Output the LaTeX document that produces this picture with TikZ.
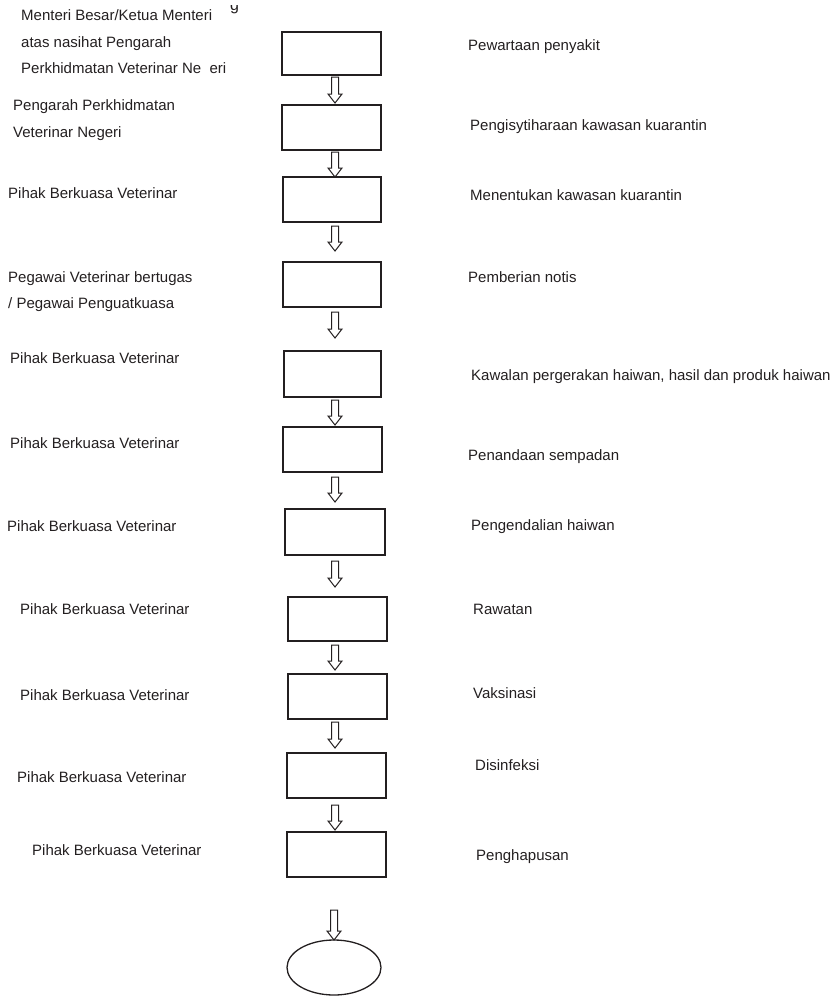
\documentclass[tikz,border=0pt]{standalone}
\usepackage{fontspec}
\setmainfont{Liberation Sans}
\usetikzlibrary{shapes.geometric}
\definecolor{ink}{HTML}{231F20}
\begin{document}
\begin{tikzpicture}[x=1pt,y=-1pt,
  lbl/.style={anchor=base west, inner sep=0pt, font=\fontsize{15}{18}\selectfont, text=ink},
  stepbox/.style={draw=ink, line width=1.3pt, rectangle, inner sep=0pt},
  endshape/.style={draw=ink, line width=1.3pt, ellipse, inner sep=0pt},
  pics/barrow/.style={code={
    \draw[draw=ink, line width=1pt, line join=miter]
      (-3.5,0) -- (-3.5,#1-9) -- (-7,#1-9) -- (0,#1) -- (7,#1-9) -- (3.5,#1-9) -- (3.5,0) -- cycle;}}
]
\useasboundingbox (0,0) rectangle (837,996);

% step boxes
\newcommand\stepnode[5]{\node[stepbox, minimum width={#3pt-#2pt}, minimum height={#5pt-#4pt}] (#1) at ({(#2+#3)/2},{(#4+#5)/2}) {};}
\stepnode{b1}{282}{381}{32}{75}
\stepnode{b2}{282}{381}{105}{150}
\stepnode{b3}{283}{381}{177}{222}
\stepnode{b4}{283}{381}{262}{307}
\stepnode{b5}{284}{381}{351}{397}
\stepnode{b6}{283}{382}{427}{472}
\stepnode{b7}{285}{385}{509}{555}
\stepnode{b8}{288}{387}{597}{641}
\stepnode{b9}{288}{387}{674}{719}
\stepnode{b10}{287}{386}{753}{798}
\stepnode{b11}{287}{386}{832}{877}
\node[endshape, minimum width=94pt, minimum height=55pt] (e) at (334,967.5) {};

% block arrows
\pic at (335,77) {barrow=26};
\pic at (335,152) {barrow=25};
\pic at (335,226) {barrow=25};
\pic at (335,312) {barrow=26};
\pic at (335,400) {barrow=25};
\pic at (335,477) {barrow=25};
\pic at (335,561) {barrow=26};
\pic at (335,645) {barrow=25};
\pic at (335,722) {barrow=26};
\pic at (335,805) {barrow=25};
\pic at (334,910) {barrow=30};

% left labels
\node[lbl] (l1a) at (21,20) {Menteri Besar/Ketua Menteri};
\node[lbl] (l1b) at (21,47) {atas nasihat Pengarah};
\node[lbl] (l1c) at (21,73) {Perkhidmatan Veterinar Ne\ \ eri};
\begin{scope}
  \clip (220,5) rectangle (250,20);
  \node[lbl, font=\fontsize{16}{18}\selectfont] (g) at (230,10) {g};
\end{scope}
\node[lbl] (l2a) at (13,110) {Pengarah Perkhidmatan};
\node[lbl] (l2b) at (13,137) {Veterinar Negeri};
\node[lbl] (l3) at (8,198) {Pihak Berkuasa Veterinar};
\node[lbl] (l4a) at (8,282) {Pegawai Veterinar bertugas};
\node[lbl] (l4b) at (8,308) {/ Pegawai Penguatkuasa};
\node[lbl] (l5) at (10,363) {Pihak Berkuasa Veterinar};
\node[lbl] (l6) at (10,448) {Pihak Berkuasa Veterinar};
\node[lbl] (l7) at (7,531) {Pihak Berkuasa Veterinar};
\node[lbl] (l8) at (20,614) {Pihak Berkuasa Veterinar};
\node[lbl] (l9) at (20,700) {Pihak Berkuasa Veterinar};
\node[lbl] (l10) at (17,782) {Pihak Berkuasa Veterinar};
\node[lbl] (l11) at (32,855) {Pihak Berkuasa Veterinar};

% right labels
\node[lbl] (r1) at (468,50) {Pewartaan penyakit};
\node[lbl] (r2) at (470,130) {Pengisytiharaan kawasan kuarantin};
\node[lbl] (r3) at (470,200) {Menentukan kawasan kuarantin};
\node[lbl] (r4) at (468,282) {Pemberian notis};
\node[lbl] (r5) at (471,380) {Kawalan pergerakan haiwan, hasil dan produk haiwan};
\node[lbl] (r6) at (468,460) {Penandaan sempadan};
\node[lbl] (r7) at (471,530) {Pengendalian haiwan};
\node[lbl] (r8) at (473,614) {Rawatan};
\node[lbl] (r9) at (473,698) {Vaksinasi};
\node[lbl] (r10) at (475,770) {Disinfeksi};
\node[lbl] (r11) at (476,860) {Penghapusan};
\end{tikzpicture}
\end{document}
